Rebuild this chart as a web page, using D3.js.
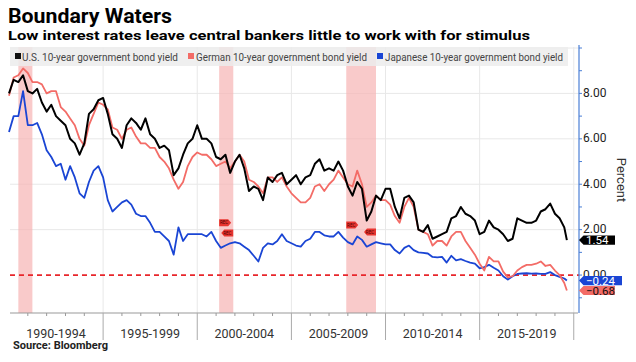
<!DOCTYPE html>
<html>
<head>
<meta charset="utf-8">
<script src="https://cdn.jsdelivr.net/npm/d3@7"></script>
<style>
  body { margin: 0; background: #fff; }
  svg { display: block; font-family: Roboto, "DejaVu Sans", sans-serif; }
</style>
</head>
<body>
<div id="chart"></div>
<script>
// Quarterly readings (Jan, Apr, Jul, Oct) from 1990, last value = Aug 2019
const usYield = [
  8.0, 8.6, 8.5, 8.8,
  8.1, 8.0, 8.2, 7.6,
  7.2, 7.5, 7.0, 6.8,
  6.6, 6.0, 5.8, 5.3,
  5.8, 7.1, 7.3, 7.7,
  7.8, 7.1, 6.2, 6.0,
  5.6, 6.6, 6.9, 6.7,
  6.4, 6.9, 6.2, 6.0,
  5.6, 5.7, 5.5, 4.4,
  4.7, 5.3, 5.8, 6.0,
  6.6, 6.0, 6.0, 5.8,
  5.2, 5.1, 5.3, 4.5,
  5.0, 5.3, 4.7, 3.7,
  3.9, 3.8, 3.3, 4.3,
  4.1, 4.4, 4.5, 4.0,
  4.2, 4.4, 4.0, 4.3,
  4.4, 4.9, 5.1, 4.6,
  4.7, 4.6, 5.0, 4.6,
  3.9, 3.5, 4.1, 3.8,
  2.4, 2.8, 3.5, 3.3,
  3.8, 3.8, 3.0, 2.5,
  3.4, 3.5, 3.2, 2.0,
  1.9, 2.2, 1.6, 1.7,
  1.8, 1.9, 2.5, 2.6,
  3.0, 2.7, 2.6, 2.4,
  1.8, 1.9, 2.4, 2.1,
  2.0, 1.8, 1.5, 1.6,
  2.5, 2.4, 2.3, 2.3,
  2.4, 2.8, 2.9, 3.15,
  2.7, 2.5, 2.1, 1.54
];

const deYield = [
  7.9, 8.7, 8.8, 9.1,
  8.9, 8.5, 8.5, 8.4,
  8.0, 8.1, 8.1, 7.4,
  7.2, 6.9, 6.6, 6.0,
  5.7, 6.6, 7.1, 7.6,
  7.5, 7.3, 6.5, 6.4,
  6.0, 6.4, 6.5, 6.1,
  5.8, 5.8, 5.6, 5.6,
  5.2, 5.0, 4.7, 4.2,
  3.8, 4.1, 4.8, 5.2,
  5.4, 5.3, 5.3, 5.1,
  4.8, 4.9, 5.0, 4.7,
  5.0, 5.3, 5.0, 4.2,
  4.1, 3.9, 3.6, 4.3,
  4.3, 4.1, 4.3, 3.9,
  3.6, 3.4, 3.2, 3.2,
  3.4, 3.9, 4.0, 3.7,
  4.0, 4.2, 4.6, 4.3,
  4.0, 3.9, 4.6, 4.0,
  3.0, 3.2, 3.5, 3.3,
  3.3, 3.1, 2.6, 2.3,
  3.0, 3.4, 3.0, 2.0,
  1.9, 1.8, 1.3, 1.5,
  1.5, 1.3, 1.7, 1.9,
  1.9, 1.5, 1.2, 0.9,
  0.5, 0.2, 0.8, 0.6,
  0.6, 0.15, -0.1, -0.05,
  0.2, 0.35, 0.45, 0.45,
  0.5, 0.6, 0.4, 0.45,
  0.2, 0.0, -0.35, -0.68
];

const jpYield = [
  6.3, 7.0, 7.0, 8.1,
  6.6, 6.6, 6.7, 6.2,
  5.5, 5.2, 4.8, 4.9,
  4.2, 4.8, 4.3, 3.6,
  3.4, 4.1, 4.6, 4.8,
  4.3, 3.3, 2.8, 3.0,
  3.2, 3.3, 3.1, 2.7,
  2.6, 2.6, 2.3, 1.9,
  1.9, 1.7, 1.5, 0.9,
  2.1, 1.5, 1.8, 1.8,
  1.8, 1.8, 1.7, 1.9,
  1.5, 1.2, 1.3, 1.4,
  1.45, 1.4, 1.25, 1.1,
  0.85, 0.6, 1.2, 1.4,
  1.35, 1.5, 1.8, 1.5,
  1.4, 1.3, 1.25, 1.5,
  1.6, 1.9, 1.9, 1.75,
  1.7, 1.7, 1.9, 1.65,
  1.45, 1.35, 1.7, 1.55,
  1.25, 1.35, 1.45, 1.4,
  1.35, 1.35, 1.1, 0.95,
  1.2, 1.3, 1.1, 1.0,
  0.98, 0.95, 0.8, 0.78,
  0.8, 0.55, 0.85, 0.65,
  0.7, 0.62, 0.55, 0.5,
  0.3, 0.35, 0.45, 0.32,
  0.2, -0.05, -0.2, -0.05,
  0.05, 0.07, 0.08, 0.06,
  0.07, 0.05, 0.05, 0.13,
  0.0, -0.08, -0.15, -0.24
];

const recessions = [
  ["1990-07-01", "1991-03-31"],
  ["2001-03-01", "2001-11-30"],
  ["2007-12-01", "2009-06-30"]
];

const periodLabels = ["1990-1994", "1995-1999", "2000-2004", "2005-2009", "2010-2014", "2015-2019"];
const yTicks = [0, 2, 4, 6, 8];

const seriesNames = [
  "U.S. 10-year government bond yield",
  "German 10-year government bond yield",
  "Japanese 10-year government bond yield"
];

const W = 636, H = 362;
const parseDate = d3.timeParse("%Y-%m-%d");

const dates = d3.range(usYield.length - 1)
  .map(i => d3.timeMonth.offset(new Date(1990, 0, 1), i * 3))
  .concat([new Date(2019, 7, 20)]);

const svg = d3.select("#chart").append("svg")
  .attr("width", W).attr("height", H);

const x = d3.scaleTime()
  .domain([new Date(1990, 0, 1), new Date(2020, 4, 1)])
  .range([9, 580]);
const y = d3.scaleLinear().domain([-1.67, 10]).range([313, 48]);

const pL = 10, pR = 579, pT = 47, pB = 313;

// gridlines
svg.append("g").selectAll("line").data([2, 4, 6, 8, 10]).join("line")
  .attr("x1", pL).attr("x2", pR)
  .attr("y1", d => y(d)).attr("y2", d => y(d))
  .attr("stroke", "#e8e8e8").attr("stroke-width", 1);

const majorYears = d3.range(1995, 2021, 5).map(yr => new Date(yr, 0, 1));
svg.append("g").selectAll("line").data(majorYears).join("line")
  .attr("x1", d => x(d)).attr("x2", d => x(d))
  .attr("y1", pT).attr("y2", pB)
  .attr("stroke", "#e8e8e8").attr("stroke-width", 1);

// recession bands
svg.append("g").selectAll("rect").data(recessions).join("rect")
  .attr("x", d => x(parseDate(d[0])))
  .attr("width", d => x(parseDate(d[1])) - x(parseDate(d[0])))
  .attr("y", pT).attr("height", pB - pT)
  .attr("fill", "#f7b3b3").attr("fill-opacity", 0.7);

// zero line
svg.append("line")
  .attr("x1", pL).attr("x2", pR)
  .attr("y1", y(0)).attr("y2", y(0))
  .attr("stroke", "#e8262b").attr("stroke-width", 1.6)
  .attr("stroke-dasharray", "5,4");

// lines
const line = d3.line().x((d, i) => x(dates[i])).y(d => y(d));
[[jpYield, "#1a45d4", 1.8], [deYield, "#f36c67", 1.8], [usYield, "#000", 2]].forEach(([vals, col, sw]) => {
  svg.append("path").datum(vals)
    .attr("fill", "none").attr("stroke", col)
    .attr("stroke-width", sw).attr("stroke-linejoin", "round")
    .attr("d", line);
});

// REC markers (2001, 2008)
const recMarkers = [
  { date: recessions[1][0], v: 2.3, dir: 1 },
  { date: recessions[1][1], v: 1.85, dir: -1 },
  { date: recessions[2][0], v: 2.2, dir: 1 },
  { date: recessions[2][1], v: 1.9, dir: -1 }
];
const mk = svg.append("g").selectAll("g").data(recMarkers).join("g")
  .attr("transform", d => `translate(${x(parseDate(d.date))},${y(d.v)})`);
mk.append("path")
  .attr("d", d => d.dir > 0
    ? "M0,-3.5 L9,-3.5 L12,0 L9,3.5 L0,3.5 Z"
    : "M0,-3.5 L-9,-3.5 L-12,0 L-9,3.5 L0,3.5 Z")
  .attr("fill", "#e8342f");
mk.append("text")
  .attr("x", d => d.dir > 0 ? 5 : -6)
  .attr("y", 1.6).attr("text-anchor", "middle")
  .attr("font-size", 4.5).attr("fill", "#4a0000").text("REC");

// legend
const lg = svg.append("g");
lg.append("rect").attr("x", 10).attr("y", 47).attr("width", 558).attr("height", 19)
  .attr("fill", "#ececec").attr("fill-opacity", 0.85);
const legendItems = [
  { name: seriesNames[0], color: "#111", sx: 15, tx: 22, tw: 156 },
  { name: seriesNames[1], color: "#f36c67", sx: 188, tx: 196, tw: 171 },
  { name: seriesNames[2], color: "#1a45d4", sx: 377, tx: 385, tw: 178 }
];
legendItems.forEach(d => {
  lg.append("rect").attr("x", d.sx).attr("y", 53).attr("width", 6).attr("height", 6).attr("fill", d.color);
  lg.append("text").attr("x", d.tx).attr("y", 60.5)
    .attr("font-size", 11).attr("fill", "#444")
    .attr("textLength", d.tw).attr("lengthAdjust", "spacingAndGlyphs")
    .text(d.name);
});

// bottom axis
const ax = svg.append("g");
ax.append("line").attr("x1", pL).attr("x2", 578).attr("y1", pB).attr("y2", pB)
  .attr("stroke", "#999");
const minorYears = d3.range(1991, 2020).filter(yr => yr % 5 !== 0).map(yr => new Date(yr, 0, 1));
ax.selectAll(".mn").data(minorYears).join("line")
  .attr("x1", d => x(d)).attr("x2", d => x(d)).attr("y1", pB).attr("y2", pB + 3)
  .attr("stroke", "#999");
ax.selectAll(".mj").data(majorYears).join("line")
  .attr("x1", d => x(d)).attr("x2", d => x(d)).attr("y1", pB).attr("y2", pB + 27)
  .attr("stroke", "#aaa");
ax.selectAll("text").data(periodLabels).join("text")
  .attr("x", (d, i) => (x(new Date(1990 + i * 5, 0, 1)) + x(new Date(1995 + i * 5, 0, 1))) / 2)
  .attr("y", 338).attr("text-anchor", "middle")
  .attr("font-size", 12.5).attr("fill", "#333")
  .text(d => d);

// right axis
const ry = svg.append("g");
ry.append("line").attr("x1", pR).attr("x2", pR).attr("y1", 45).attr("y2", pB)
  .attr("stroke", "#4a7fd6").attr("stroke-width", 1.2);
ry.selectAll(".t").data(d3.range(-1, 11)).join("line")
  .attr("x1", pR).attr("x2", pR + 3)
  .attr("y1", d => y(d)).attr("y2", d => y(d))
  .attr("stroke", "#4a7fd6");
ry.selectAll("text").data(yTicks).join("text")
  .attr("x", 583).attr("y", d => y(d) + 3.5)
  .attr("font-size", 12).attr("fill", "#222")
  .text(d => d3.format(".2f")(d));

svg.append("text")
  .attr("transform", "translate(617,180) rotate(90)")
  .attr("text-anchor", "middle").attr("font-size", 13).attr("fill", "#333")
  .text("Percent");

// last-value tags
const tags = [
  { v: usYield[usYield.length - 1], bg: "#000", fg: "#fff", w: 36 },
  { v: jpYield[jpYield.length - 1], bg: "#1a45d4", fg: "#fff", w: 43 },
  { v: deYield[deYield.length - 1], bg: "#f36c67", fg: "#111", w: 36 }
];
const tg = svg.append("g").selectAll("g").data(tags).join("g")
  .attr("transform", d => `translate(${pR},${y(d.v)})`);
tg.append("path")
  .attr("d", d => `M0,0 L4.5,-4.6 L${d.w},-4.6 L${d.w},4.6 L4.5,4.6 Z`)
  .attr("fill", d => d.bg);
tg.append("text").attr("x", 7).attr("y", 4)
  .attr("font-size", 11.5).attr("fill", d => d.fg)
  .text(d => d3.format(".2f")(d.v));

// titles
svg.append("text").attr("x", 8).attr("y", 23)
  .attr("font-size", 21).attr("font-weight", "bold").attr("fill", "#000")
  .attr("textLength", 164).attr("lengthAdjust", "spacingAndGlyphs")
  .text("Boundary Waters");
svg.append("text").attr("x", 8).attr("y", 40)
  .attr("font-size", 13.5).attr("font-weight", "bold").attr("fill", "#000")
  .attr("textLength", 522).attr("lengthAdjust", "spacingAndGlyphs")
  .text("Low interest rates leave central bankers little to work with for stimulus");
svg.append("text").attr("x", 13).attr("y", 349)
  .attr("font-size", 10).attr("font-weight", "bold").attr("fill", "#222")
  .attr("textLength", 95).attr("lengthAdjust", "spacingAndGlyphs")
  .text("Source:  Bloomberg");
</script>
</body>
</html>
